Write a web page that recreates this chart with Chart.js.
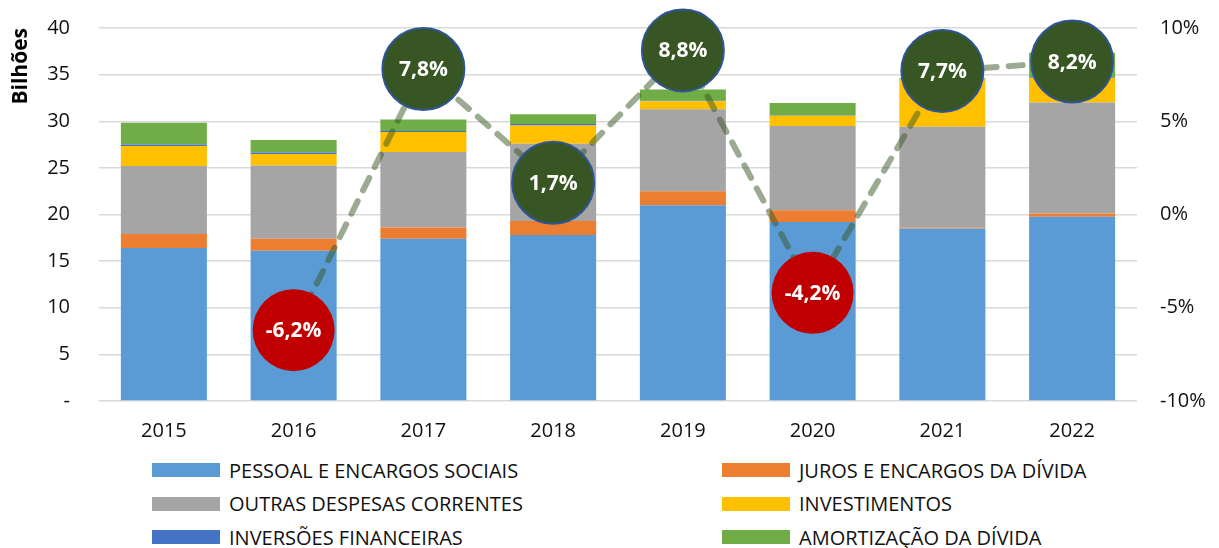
<!DOCTYPE html>
<html>
<head>
<meta charset="utf-8">
<script src="https://cdn.jsdelivr.net/npm/chart.js@4"></script>
<style>
  body { margin: 0; background: #fff; font-family: 'Open Sans', sans-serif; }
  #wrap { position: relative; width: 1219px; height: 548px; }
  #box { position: absolute; left: 0; top: 0; width: 1219px; height: 451px; }
  #legenda .item { position: absolute; height: 34px; display: flex; align-items: center; font-size: 20px; color: #111; white-space: nowrap; }
  #legenda .cor { width: 68px; height: 14px; margin-right: 9px; }
</style>
</head>
<body>
<div id="wrap">
  <div id="box"><canvas id="despesasChart"></canvas></div>
  <div id="legenda"></div>
</div>
<script>
const anos = ['2015', '2016', '2017', '2018', '2019', '2020', '2021', '2022'];

// valores em bilhões
const pessoal      = [16.4, 16.1, 17.4, 17.8, 21.0, 19.2, 18.5, 19.75];
const juros        = [1.5, 1.3, 1.2, 1.5, 1.5, 1.25, 0.1, 0.35];
const outras       = [7.3, 7.85, 8.1, 8.3, 8.8, 9.05, 10.8, 11.9];
const investimentos = [2.15, 1.25, 2.15, 1.95, 0.85, 1.1, 5.1, 2.65];
const inversoes    = [0.15, 0.15, 0.1, 0.15, 0.05, 0.05, 0.05, 0.05];
const amortizacao  = [2.35, 1.35, 1.25, 1.05, 1.2, 1.3, 0.1, 2.65];

// variação anual (%)
const variacao = [null, -6.2, 7.8, 1.7, 8.8, -4.2, 7.7, 8.2];

const fonte = "'Open Sans', sans-serif";

function barra(label, data, cor) {
    return {
        type: 'bar',
        label: label,
        data: data,
        backgroundColor: cor,
        yAxisID: 'y',
        stack: 'despesas',
        order: 1,
        barPercentage: 0.663,
        categoryPercentage: 1
    };
}

// bolhas com o rótulo da variação, desenhadas sobre os pontos da linha
const rotulos = {
    id: 'rotulos',
    afterDatasetsDraw(chart) {
        const ctx = chart.ctx;
        const meta = chart.getDatasetMeta(6);
        ctx.save();
        meta.data.forEach(function(pt, i) {
            const v = variacao[i];
            if (v === null) return;
            ctx.beginPath();
            ctx.arc(pt.x, pt.y, 41, 0, Math.PI * 2);
            ctx.fillStyle = v < 0 ? '#C00000' : '#375623';
            ctx.fill();
            if (v >= 0) {
                ctx.lineWidth = 2;
                ctx.strokeStyle = '#2F5597';
                ctx.stroke();
            }
            ctx.font = 'bold 21px ' + fonte;
            ctx.fillStyle = '#fff';
            ctx.textAlign = 'center';
            ctx.textBaseline = 'middle';
            ctx.fillText(v.toFixed(1).replace('.', ',') + '%', pt.x, pt.y + 1);
        });
        ctx.restore();
    }
};

const ctx = document.getElementById('despesasChart').getContext('2d');
const chart = new Chart(ctx, {
    data: {
        labels: anos,
        datasets: [
            barra('PESSOAL E ENCARGOS SOCIAIS', pessoal, '#5B9BD5'),
            barra('JUROS E ENCARGOS DA DÍVIDA', juros, '#ED7D31'),
            barra('OUTRAS DESPESAS CORRENTES', outras, '#A5A5A5'),
            barra('INVESTIMENTOS', investimentos, '#FFC000'),
            barra('INVERSÕES FINANCEIRAS', inversoes, '#4472C4'),
            barra('AMORTIZAÇÃO DA DÍVIDA', amortizacao, '#70AD47'),
            {
                type: 'line',
                label: 'Variação',
                data: variacao,
                yAxisID: 'y1',
                order: 0,
                clip: false,
                borderColor: 'rgba(56, 87, 35, 0.5)',
                borderWidth: 6,
                borderDash: [14, 12],
                borderCapStyle: 'round',
                tension: 0,
                pointRadius: 0,
                pointHoverRadius: 0
            }
        ]
    },
    options: {
        responsive: true,
        maintainAspectRatio: false,
        animation: false,
        layout: { padding: { top: 28, left: 8, right: 0, bottom: 0 } },
        plugins: {
            legend: { display: false },
            tooltip: { enabled: false }
        },
        scales: {
            x: {
                stacked: true,
                grid: { display: false },
                border: { display: false },
                ticks: { color: '#111', font: { family: fonte, size: 20 }, padding: 10 },
                afterFit: function(scale) { scale.height = 50; }
            },
            y: {
                stacked: true,
                position: 'left',
                min: 0,
                max: 40,
                ticks: {
                    stepSize: 5,
                    color: '#111',
                    padding: 5,
                    font: { family: fonte, size: 20 },
                    callback: v => v === 0 ? '-' : v
                },
                grid: { color: '#D9D9D9', lineWidth: 1.5, drawTicks: true, tickLength: 24, tickColor: 'rgba(0,0,0,0)' },
                border: { display: false },
                title: {
                    display: true,
                    text: 'Bilhões',
                    align: 'end',
                    color: '#000',
                    font: { family: fonte, size: 21, weight: 'bold' },
                    padding: 0
                },
                afterFit: function(scale) { scale.width = 91; }
            },
            y1: {
                position: 'right',
                min: -10,
                max: 10,
                ticks: {
                    stepSize: 5,
                    color: '#111',
                    padding: 3,
                    font: { family: fonte, size: 20 },
                    callback: v => v + '%'
                },
                grid: { display: true, drawOnChartArea: false, drawTicks: true, tickLength: 20, tickColor: 'rgba(0,0,0,0)' },
                border: { display: false },
                afterFit: function(scale) { scale.width = 82; }
            }
        }
    },
    plugins: [rotulos]
});

// legenda em duas colunas
const legenda = document.getElementById('legenda');
chart.data.datasets.slice(0, 6).forEach(function(ds, i) {
    const item = document.createElement('div');
    item.className = 'item';
    item.style.left = (i % 2 === 0 ? 152 : 722) + 'px';
    item.style.top = (453 + Math.floor(i / 2) * 33.5) + 'px';
    item.innerHTML = '<span class="cor" style="background:' + ds.backgroundColor + '"></span>' + ds.label;
    legenda.appendChild(item);
});
</script>
</body>
</html>
